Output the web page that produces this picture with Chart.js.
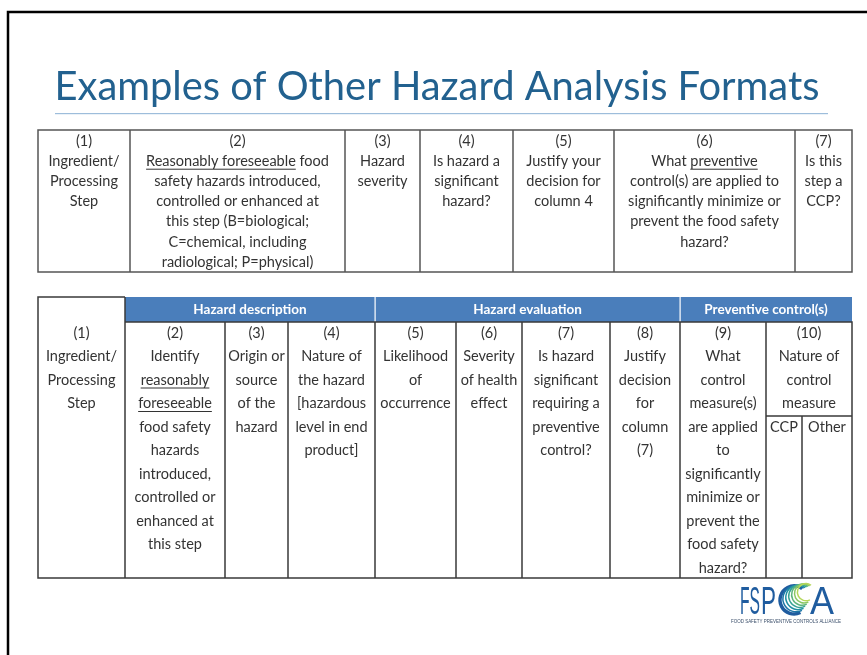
<!DOCTYPE html>
<html>
<head>
<meta charset="utf-8">
<title>Examples of Other Hazard Analysis Formats</title>
<script src="https://cdn.jsdelivr.net/npm/chart.js@4.4.1/dist/chart.umd.min.js"></script>
<style>
  body { margin: 0; background: #fff; }
  canvas { display: block; }
</style>
</head>
<body>
<canvas id="slide" width="867" height="655"></canvas>
<script>
// slide text, one string per printed line, _text_ = underlined
const titleText = 'Examples of Other Hazard Analysis Formats';

const formatOneHeads = [
  ['(1)', 'Ingredient/', 'Processing', 'Step'],
  ['(2)', '_Reasonably foreseeable_ food', 'safety hazards introduced,', 'controlled or enhanced at', 'this step (B=biological;', 'C=chemical, including', 'radiological; P=physical)'],
  ['(3)', 'Hazard', 'severity'],
  ['(4)', 'Is hazard a', 'significant', 'hazard?'],
  ['(5)', 'Justify your', 'decision for', 'column 4'],
  ['(6)', 'What _preventive_', 'control(s) are applied to', 'significantly minimize or', 'prevent the food safety', 'hazard?'],
  ['(7)', 'Is this', 'step a', 'CCP?']
];

const formatTwoGroups = ['Hazard description', 'Hazard evaluation', 'Preventive control(s)'];

const formatTwoHeads = [
  ['(1)', 'Ingredient/', 'Processing', 'Step'],
  ['(2)', 'Identify', '_reasonably_', '_foreseeable_', 'food safety', 'hazards', 'introduced,', 'controlled or', 'enhanced at', 'this step'],
  ['(3)', 'Origin or', 'source', 'of the', 'hazard'],
  ['(4)', 'Nature of', 'the hazard', '[hazardous', 'level in end', 'product]'],
  ['(5)', 'Likelihood', 'of', 'occurrence'],
  ['(6)', 'Severity', 'of health', 'effect'],
  ['(7)', 'Is hazard', 'significant', 'requiring a', 'preventive', 'control?'],
  ['(8)', 'Justify', 'decision', 'for', 'column', '(7)'],
  ['(9)', 'What', 'control', 'measure(s)', 'are applied', 'to', 'significantly', 'minimize or', 'prevent the', 'food safety', 'hazard?'],
  ['(10)', 'Nature of', 'control', 'measure']
];

const natureSubHeads = ['CCP', 'Other'];

const logoWord = ['FS', 'P', 'C', 'A'];
const logoTagline = 'FOOD SAFETY PREVENTIVE CONTROLS ALLIANCE';

// page geometry (slide units = pixels of the 867x655 page)
const layout = {
  one: { cols: [38, 130, 345, 420, 513, 614, 795, 852], top: 130, bottom: 272, firstLine: 141, lineGap: 20.2 },
  two: { cols: [38, 125, 225, 288, 375, 456, 522, 610, 680, 766, 802, 852], top: 297, band: 322, bottom: 578,
         firstLine: 333, lineGap: 23.5, groups: [[1, 4], [4, 8], [8, 10]], subLine: 416 }
};

const FONT = 'Lato, "Open Sans", sans-serif';
const TEXT = '#333';

// draw one line centred on cx, honouring _underline_ marks
function drawLine(ctx, str, cx, cy, maxW) {
  const parts = str.split('_').map((s, i) => ({ s: s, u: i % 2 === 1 })).filter(p => p.s.length);
  let total = 0;
  parts.forEach(p => { p.w = ctx.measureText(p.s).width; total += p.w; });
  const k = total > maxW ? maxW / total : 1;
  ctx.save();
  ctx.translate(cx - total * k / 2, cy);
  ctx.scale(k, 1);
  let x = 0;
  ctx.textAlign = 'left';
  parts.forEach(p => {
    ctx.fillText(p.s, x, 0);
    if (p.u) {
      ctx.fillRect(x, 7.5, p.w, 1);
    }
    x += p.w;
  });
  ctx.restore();
}

const slidePainter = {
  id: 'slidePainter',
  afterDraw(chart) {
    const ctx = chart.ctx;
    const X = v => chart.scales.x.getPixelForValue(v);
    const Y = v => chart.scales.y.getPixelForValue(v);

    ctx.save();
    ctx.fillStyle = '#fff';
    ctx.fillRect(X(0), Y(0), X(867) - X(0), Y(655) - Y(0));

    // slide frame
    ctx.strokeStyle = '#000';
    ctx.lineWidth = 2.5;
    ctx.beginPath();
    ctx.moveTo(X(8), Y(655));
    ctx.lineTo(X(8), Y(12));
    ctx.lineTo(X(867), Y(12));
    ctx.stroke();

    // title
    ctx.fillStyle = '#22618f';
    ctx.textBaseline = 'alphabetic';
    ctx.font = '40px ' + FONT;
    const tw = ctx.measureText(titleText).width;
    ctx.save();
    ctx.translate(X(437), Y(100));
    ctx.scale(765 / tw, 1);
    ctx.textAlign = 'center';
    ctx.fillText(titleText, 0, 0);
    ctx.restore();
    ctx.fillStyle = '#9dbddb';
    ctx.fillRect(X(55), Y(113), X(828) - X(55), 1.2);

    // ---- format one
    const one = layout.one;
    ctx.strokeStyle = '#555';
    ctx.lineWidth = 1.5;
    ctx.strokeRect(X(one.cols[0]), Y(one.top), X(one.cols[one.cols.length - 1]) - X(one.cols[0]), Y(one.bottom) - Y(one.top));
    ctx.beginPath();
    one.cols.slice(1, -1).forEach(c => { ctx.moveTo(X(c), Y(one.top)); ctx.lineTo(X(c), Y(one.bottom)); });
    ctx.stroke();
    ctx.fillStyle = TEXT;
    ctx.font = '14.5px ' + FONT;
    ctx.textBaseline = 'middle';
    formatOneHeads.forEach((lines, i) => {
      const cx = (X(one.cols[i]) + X(one.cols[i + 1])) / 2;
      const w = X(one.cols[i + 1]) - X(one.cols[i]) - 6;
      lines.forEach((ln, j) => drawLine(ctx, ln, cx, Y(one.firstLine + j * one.lineGap), w));
    });

    // ---- format two
    const two = layout.two;
    const c = two.cols;
    // group band
    ctx.fillStyle = '#4a7ebb';
    ctx.fillRect(X(c[1]), Y(two.top), X(c[c.length - 1]) - X(c[1]), Y(two.band) - Y(two.top));
    ctx.fillStyle = '#fff';
    ctx.font = 'bold 13.5px ' + FONT;
    two.groups.forEach((g, i) => {
      if (i > 0) ctx.fillRect(X(c[g[0]]) - 0.5, Y(two.top), 1.2, Y(two.band) - Y(two.top));
      drawLine(ctx, formatTwoGroups[i], (X(c[g[0]]) + X(c[g[1] + (i === 2 ? 1 : 0)])) / 2, Y((two.top + two.band) / 2), 150);
    });

    ctx.strokeStyle = '#3a3a3a';
    ctx.lineWidth = 1.5;
    ctx.beginPath();
    // first column box
    ctx.moveTo(X(c[1]), Y(two.top));
    ctx.lineTo(X(c[0]), Y(two.top));
    ctx.lineTo(X(c[0]), Y(two.bottom));
    ctx.lineTo(X(c[c.length - 1]), Y(two.bottom));
    ctx.lineTo(X(c[c.length - 1]), Y(two.band));
    ctx.lineTo(X(c[1]), Y(two.band));
    ctx.moveTo(X(c[1]), Y(two.top));
    ctx.lineTo(X(c[1]), Y(two.bottom));
    c.slice(2, -1).forEach((v, i) => {
      const yTop = (i + 2 === 10) ? two.subLine : two.band;
      ctx.moveTo(X(v), Y(yTop));
      ctx.lineTo(X(v), Y(two.bottom));
    });
    ctx.moveTo(X(c[9]), Y(two.subLine));
    ctx.lineTo(X(c[11]), Y(two.subLine));
    ctx.stroke();

    ctx.fillStyle = TEXT;
    ctx.font = '14.5px ' + FONT;
    formatTwoHeads.forEach((lines, i) => {
      const right = i === 9 ? c[11] : c[i + 1];
      const cx = (X(c[i]) + X(right)) / 2;
      const w = X(right) - X(c[i]) - 3;
      lines.forEach((ln, j) => drawLine(ctx, ln, cx, Y(two.firstLine + j * two.lineGap), w));
    });
    natureSubHeads.forEach((s, i) => {
      const cx = (X(c[9 + i]) + X(c[10 + i])) / 2;
      drawLine(ctx, s, cx, Y(two.firstLine + 4 * two.lineGap), X(c[10 + i]) - X(c[9 + i]) - 3);
    });

    // ---- logo
    ctx.textBaseline = 'alphabetic';
    ctx.textAlign = 'left';
    ctx.fillStyle = '#1f5c9f';
    ctx.font = '39px "Liberation Sans", sans-serif';
    // letter, left edge, target width
    [[logoWord[0], 740, 20], [logoWord[1], 761, 15], [logoWord[3], 810, 24]].forEach(([s, x, w]) => {
      ctx.save();
      ctx.translate(X(x), Y(614));
      ctx.scale(w / ctx.measureText(s).width, 1);
      ctx.fillText(s, 0, 0);
      ctx.restore();
    });
    // swept C
    const arcCols = ['#1f5c9f', '#1b74a6', '#1f8fa3', '#35a394', '#5db47c', '#8ac765', '#b5d75a'];
    arcCols.forEach((col, i) => {
      ctx.strokeStyle = col;
      ctx.lineWidth = i === 0 ? 3.5 : 1.5;
      ctx.beginPath();
      const r = 14 - i * 0.9;
      ctx.arc(X(794 + i * 2), Y(600 - i * 1.3), r, Math.PI * 0.35, Math.PI * 1.7);
      ctx.stroke();
    });
    ctx.font = '5px "Liberation Sans Narrow", "Liberation Sans", sans-serif';
    const lw = ctx.measureText(logoTagline).width;
    ctx.save();
    ctx.translate(X(731), Y(623));
    ctx.scale(110 / lw, 1);
    ctx.fillStyle = '#3b4f6b';
    ctx.fillText(logoTagline, 0, 0);
    ctx.restore();

    ctx.restore();
  }
};

const chart = new Chart(document.getElementById('slide').getContext('2d'), {
  type: 'scatter',
  data: { datasets: [{ data: [] }] },
  options: {
    responsive: false,
    animation: false,
    layout: { padding: 0 },
    plugins: { legend: { display: false }, tooltip: { enabled: false } },
    scales: {
      x: { type: 'linear', min: 0, max: 867, display: false },
      y: { type: 'linear', min: 0, max: 655, reverse: true, display: false }
    }
  },
  plugins: [slidePainter]
});
</script>
</body>
</html>
